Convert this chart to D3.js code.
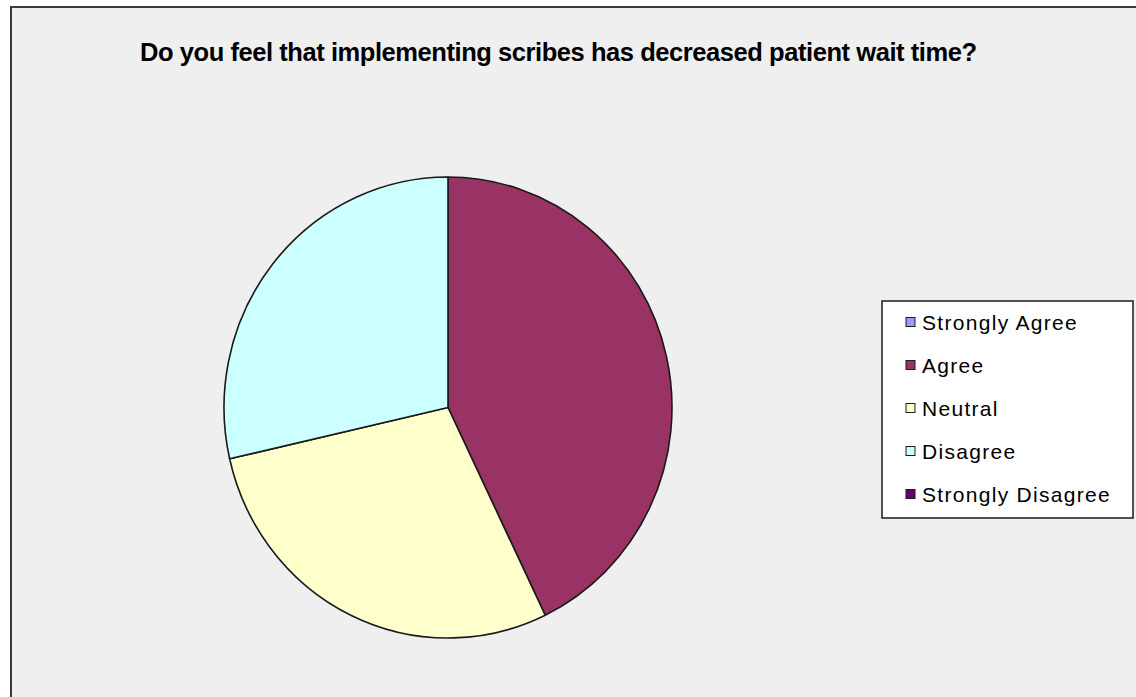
<!DOCTYPE html>
<html>
<head>
<meta charset="utf-8">
<script src="https://cdn.jsdelivr.net/npm/d3@7/dist/d3.min.js"></script>
<style>
  html, body { margin: 0; padding: 0; background: #ffffff; }
  svg { display: block; }
</style>
</head>
<body>
<svg id="chart" width="1136" height="697"></svg>
<script>
// Survey responses
const categories = ["Strongly Agree", "Agree", "Neutral", "Disagree", "Strongly Disagree"];
const counts = [0, 3, 2, 2, 0];
const colors = ["#9999FF", "#993366", "#FFFFCC", "#CCFFFF", "#660066"];
const title = "Do you feel that implementing scribes has decreased patient wait time?";

const svg = d3.select("#chart");
const W = 1136, H = 697;

// Chart area with frame
svg.append("rect")
  .attr("x", 11).attr("y", 7)
  .attr("width", W + 10).attr("height", H + 10)
  .attr("fill", "#efefef")
  .attr("stroke", "#3a3a3a")
  .attr("stroke-width", 2);

// Title (tightly tracked bold)
svg.append("text")
  .attr("x", 140).attr("y", 61)
  .attr("textLength", 837)
  .attr("lengthAdjust", "spacing")
  .attr("font-family", "Liberation Sans, Arial, sans-serif")
  .attr("font-weight", "bold")
  .attr("font-size", 25.5)
  .attr("fill", "#000")
  .text(title);

// Pie
const data = categories.map((c, i) => ({ name: c, value: counts[i], color: colors[i] }));
const pie = d3.pie().sort(null).value(d => d.value);
const arc = d3.arc().innerRadius(0).outerRadius(224);

const g = svg.append("g")
  .attr("transform", "translate(448,407.5) scale(1,1.029)");

g.selectAll("path")
  .data(pie(data).filter(d => d.data.value > 0))
  .join("path")
  .attr("d", arc)
  .attr("fill", d => d.data.color)
  .attr("stroke", "#1a1a1a")
  .attr("stroke-width", 1.6)
  .attr("stroke-linejoin", "round");

// Legend
const legend = svg.append("g").attr("transform", "translate(882,301)");
legend.append("rect")
  .attr("x", 0).attr("y", 0)
  .attr("width", 251).attr("height", 217)
  .attr("fill", "#ffffff")
  .attr("stroke", "#1a1a1a")
  .attr("stroke-width", 1.5);

const rowY = d3.scalePoint().domain(categories).range([21, 193]);

const items = legend.selectAll("g.item")
  .data(data)
  .join("g")
  .attr("class", "item")
  .attr("transform", d => `translate(0,${rowY(d.name)})`);

items.append("rect")
  .attr("x", 24).attr("y", -4.5)
  .attr("width", 9).attr("height", 9)
  .attr("fill", d => d.color)
  .attr("stroke", "#1a1a1a")
  .attr("stroke-width", 1);

items.append("text")
  .attr("x", 40).attr("y", 7.5)
  .attr("font-family", "Liberation Sans, Arial, sans-serif")
  .attr("font-size", 21)
  .attr("letter-spacing", 1.3)
  .attr("fill", "#000")
  .text(d => d.name);
</script>
</body>
</html>
